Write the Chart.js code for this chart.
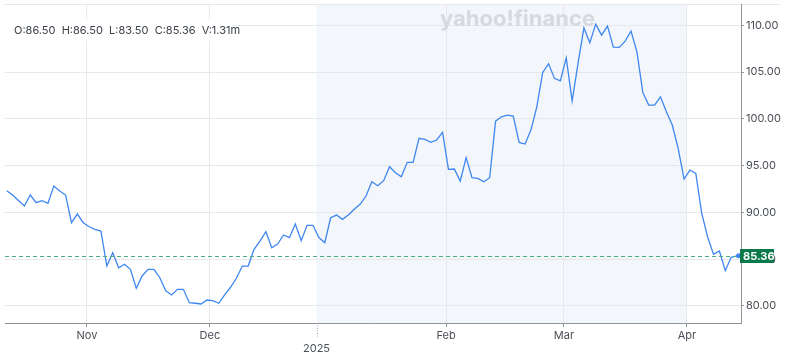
<!DOCTYPE html>
<html>
<head>
<meta charset="utf-8">
<script src="https://cdn.jsdelivr.net/npm/chart.js@4.4.1/dist/chart.umd.min.js"></script>
<style>
  html, body { margin: 0; padding: 0; background: #fff; }
  #wrap { position: relative; width: 800px; height: 354px; }
</style>
</head>
<body>
<div id="wrap"><canvas id="myChart" width="800" height="354"></canvas></div>
<script>
// daily closes
const closes = [
  92.32, 91.86, 91.27, 90.68, 91.86, 91.04, 91.25, 90.97, 92.82, 92.29,
  91.86, 88.90, 89.83, 88.90, 88.47, 88.19, 88.01, 84.27, 85.69, 84.09,
  84.46, 83.92, 81.89, 83.21, 83.92, 83.92, 83.02, 81.63, 81.18, 81.78,
  81.78, 80.35, 80.29, 80.21, 80.64, 80.57, 80.29, 81.18, 82.00, 82.96,
  84.27, 84.27, 86.06, 86.94, 87.94, 86.23, 86.62, 87.59, 87.30, 88.76,
  86.98, 88.62, 88.62, 87.32, 86.76, 89.43, 89.72, 89.26, 89.72, 90.33,
  90.87, 91.75, 93.28, 92.85, 93.39, 94.88, 94.24, 93.81, 95.35, 95.35,
  97.92, 97.81, 97.49, 97.74, 98.56, 94.60, 94.64, 93.35, 95.86, 93.71,
  93.64, 93.28, 93.71, 99.76, 100.22, 100.41, 100.30, 97.49, 97.31, 98.80,
  101.29, 104.97, 105.89, 104.33, 104.07, 106.53, 101.90, 105.93, 109.73, 108.13,
  110.13, 108.95, 109.91, 107.67, 107.64, 108.31, 109.38, 107.17, 102.83, 101.47,
  101.47, 102.36, 100.76, 99.34, 96.85, 93.57, 94.53, 94.18, 89.90, 87.40,
  85.52, 85.88, 83.77, 85.20, 85.36
];

// x axis labels and where they sit (in trading-day index units)
const monthLabels = ['Nov', 'Dec', '2025', 'Feb', 'Mar', 'Apr'];
const monthPos = [13.63, 34.5, 52.6, 74.6, 94.6, 115.5];
const yearLabel = '2025';

const yTicks = [80, 85, 90, 95, 100, 105, 110];

// shaded range (Jan 1 -> Apr 1)
const shadeFrom = 52.6;
const shadeTo = 115.5;

const lastClose = 85.36;
const ohlcText = 'O:86.50  H:86.50  L:83.50  C:85.36  V:1.31m';

const FONT = 'Inter, "Liberation Sans", Arial, sans-serif';
const lineBlue = '#3f87f0';

const points = closes.map((v, i) => ({ x: i, y: v }));

// shading, watermark, price line, OHLC box
const decorPlugin = {
    id: 'decor',
    beforeDraw(chart) {
        const { ctx, chartArea, scales } = chart;
        const x1 = scales.x.getPixelForValue(shadeFrom);
        const x2 = scales.x.getPixelForValue(shadeTo);
        ctx.save();
        ctx.fillStyle = '#f3f6fa';
        ctx.fillRect(x1, chartArea.top, x2 - x1, chartArea.bottom - chartArea.top);
        // top border line
        ctx.strokeStyle = '#e6e8ec';
        ctx.lineWidth = 1;
        ctx.beginPath();
        ctx.moveTo(chartArea.left, chartArea.top + 0.5);
        ctx.lineTo(780, chartArea.top + 0.5);
        ctx.stroke();
        ctx.restore();
    },
    beforeDatasetsDraw(chart) {
        const { ctx } = chart;
        ctx.save();
        ctx.font = 'bold 22px ' + FONT;
        ctx.fillStyle = '#d6d9de';
        ctx.textBaseline = 'alphabetic';
        ctx.fillText('yahoo!finance', 440, 26);

        // OHLC box
        ctx.fillStyle = '#ffffff';
        ctx.fillRect(6, 19, 226, 22);
        ctx.font = '11px ' + FONT;
        ctx.fillStyle = '#3b4048';
        ctx.textBaseline = 'middle';
        ctx.fillText(ohlcText, 14, 31);
        ctx.restore();
    },
    afterDraw(chart) {
        const { ctx, chartArea, scales } = chart;
        const y = Math.round(scales.y.getPixelForValue(lastClose)) + 0.5;
        ctx.save();
        ctx.strokeStyle = '#4fae80';
        ctx.lineWidth = 1;
        ctx.setLineDash([4, 3]);
        ctx.beginPath();
        ctx.moveTo(chartArea.left, y);
        ctx.lineTo(chartArea.right, y);
        ctx.stroke();
        ctx.setLineDash([]);

        // last point dot
        const lx = scales.x.getPixelForValue(closes.length - 1);
        ctx.fillStyle = lineBlue;
        ctx.beginPath();
        ctx.arc(lx + 1.5, scales.y.getPixelForValue(lastClose), 2.5, 0, Math.PI * 2);
        ctx.fill();

        // price tag
        ctx.fillStyle = '#0b7a48';
        ctx.fillRect(chartArea.right - 1, y - 7.5, 34, 14);
        ctx.fillStyle = '#ffffff';
        ctx.font = 'bold 11px ' + FONT;
        ctx.textBaseline = 'middle';
        ctx.fillText(lastClose.toFixed(2), chartArea.right + 2, y);

        // dotted year tick
        const yx = Math.round(scales.x.getPixelForValue(monthPos[monthLabels.indexOf(yearLabel)])) + 0.5;
        ctx.strokeStyle = '#a0a4aa';
        ctx.setLineDash([1, 1.5]);
        ctx.beginPath();
        ctx.moveTo(yx, chartArea.bottom);
        ctx.lineTo(yx, chartArea.bottom + 15);
        ctx.stroke();
        ctx.restore();
    }
};

const ctx = document.getElementById('myChart').getContext('2d');
const myChart = new Chart(ctx, {
    type: 'line',
    data: {
        datasets: [{
            data: points,
            borderColor: lineBlue,
            borderWidth: 1.3,
            pointRadius: 0,
            tension: 0,
            fill: false
        }]
    },
    options: {
        responsive: false,
        animation: false,
        layout: { padding: { left: 5, top: 4, right: 0, bottom: 0 } },
        plugins: {
            legend: { display: false },
            tooltip: { enabled: false }
        },
        scales: {
            x: {
                type: 'linear',
                min: -0.29,
                max: 124.67,
                afterBuildTicks: (axis) => {
                    axis.ticks = monthPos.map(v => ({ value: v }));
                },
                afterFit: (axis) => {
                    axis.height = 31;
                    axis.paddingLeft = 0;
                    axis.paddingRight = 0;
                },
                grid: {
                    color: (c) => (c.tick && c.tick.value === monthPos[2]) ? 'rgba(0,0,0,0)' : '#e6e8ec',
                    tickColor: (c) => (c.tick && c.tick.value === monthPos[2]) ? 'rgba(0,0,0,0)' : '#8f949a',
                    tickLength: 4
                },
                border: { color: '#8f949a', width: 1 },
                ticks: {
                    autoSkip: false,
                    maxRotation: 0,
                    padding: 2,
                    color: '#4a4f57',
                    font: { family: FONT, size: 11 },
                    callback: (value) => {
                        const i = monthPos.indexOf(value);
                        const lab = monthLabels[i];
                        return lab === yearLabel ? ['', lab] : lab;
                    }
                }
            },
            y: {
                position: 'right',
                min: 78.18,
                max: 112.28,
                afterBuildTicks: (axis) => {
                    axis.ticks = yTicks.map(v => ({ value: v }));
                },
                afterFit: (axis) => {
                    axis.width = 59;
                    axis.paddingTop = 0;
                    axis.paddingBottom = 0;
                },
                grid: {
                    color: '#e6e8ec',
                    tickColor: '#8f949a',
                    tickLength: 3
                },
                border: { color: '#8f949a', width: 1 },
                ticks: {
                    padding: 2,
                    color: '#4a4f57',
                    font: { family: FONT, size: 11 },
                    callback: (v) => Number(v).toFixed(2)
                }
            }
        }
    },
    plugins: [decorPlugin]
});
</script>
</body>
</html>
